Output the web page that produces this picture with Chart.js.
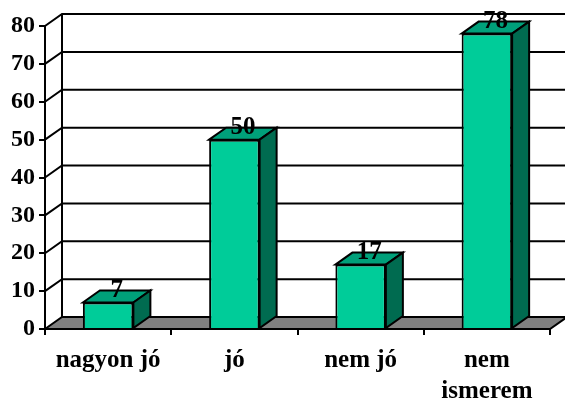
<!DOCTYPE html>
<html>
<head>
<meta charset="utf-8">
<script src="https://cdn.jsdelivr.net/npm/chart.js@4"></script>
<style>
  body { margin: 0; background: #fff; }
  #wrap { width: 565px; height: 400px; }
</style>
</head>
<body>
<div id="wrap"><canvas id="c1"></canvas></div>
<script>
// data
const categories = ['nagyon jó', 'jó', 'nem jó', ['nem', 'ismerem']];
const values = [7, 50, 17, 78];
const yMin = 0;
const yMax = 80;
const yStep = 10;

// 3d look
const dx = 17, dy = -12;
const frontColor = '#00CC99';
const topColor = '#00A07A';
const sideColor = '#006B50';
const fontFamily = '"Liberation Serif", "Times New Roman", serif';

const fake3d = {
    id: 'fake3d',
    beforeDatasetsDraw(chart) {
        const { ctx, chartArea, scales } = chart;
        const { left, right, bottom } = chartArea;
        const y = scales.y;
        ctx.save();
        ctx.lineWidth = 2;
        ctx.strokeStyle = '#000';

        // floor
        ctx.beginPath();
        ctx.moveTo(left, bottom);
        ctx.lineTo(left + dx, bottom + dy);
        ctx.lineTo(right + dx, bottom + dy);
        ctx.lineTo(right, bottom);
        ctx.closePath();
        ctx.fillStyle = '#808080';
        ctx.fill();
        ctx.stroke();

        // gridlines on side and back wall
        for (let v = yMin + yStep; v <= yMax; v += yStep) {
            const py = y.getPixelForValue(v);
            ctx.beginPath();
            ctx.moveTo(left, py);
            ctx.lineTo(left + dx, py + dy);
            ctx.lineTo(chart.width, py + dy);
            ctx.stroke();
        }

        // back wall left edge
        ctx.beginPath();
        ctx.moveTo(left + dx, bottom + dy);
        ctx.lineTo(left + dx, y.getPixelForValue(yMax) + dy);
        ctx.stroke();
        ctx.restore();
    },
    afterDatasetsDraw(chart) {
        const { ctx } = chart;
        const meta = chart.getDatasetMeta(0);
        ctx.save();
        ctx.lineWidth = 2;
        ctx.strokeStyle = '#000';
        ctx.lineJoin = 'miter';
        meta.data.forEach((bar, i) => {
            const p = bar.getProps(['x', 'y', 'base', 'width'], true);
            const l = p.x - p.width / 2;
            const r = p.x + p.width / 2;
            const t = p.y;
            const b = p.base;

            // top
            ctx.beginPath();
            ctx.moveTo(l, t);
            ctx.lineTo(l + dx, t + dy);
            ctx.lineTo(r + dx, t + dy);
            ctx.lineTo(r, t);
            ctx.closePath();
            ctx.fillStyle = topColor;
            ctx.fill();
            ctx.stroke();

            // side
            ctx.beginPath();
            ctx.moveTo(r, t);
            ctx.lineTo(r + dx, t + dy);
            ctx.lineTo(r + dx, b + dy);
            ctx.lineTo(r, b);
            ctx.closePath();
            ctx.fillStyle = sideColor;
            ctx.fill();
            ctx.stroke();

            // value label
            ctx.fillStyle = '#000';
            ctx.font = 'bold 25px ' + fontFamily;
            ctx.textAlign = 'center';
            ctx.textBaseline = 'middle';
            ctx.fillText(String(values[i]), p.x + dx / 2, t + dy);
        });
        ctx.restore();
    }
};

const ctx = document.getElementById('c1').getContext('2d');

const myChart = new Chart(ctx, {
    type: 'bar',
    data: {
        labels: categories,
        datasets: [{
            data: values,
            backgroundColor: frontColor,
            borderColor: '#000',
            borderWidth: 2,
            categoryPercentage: 1,
            barPercentage: 0.4,
        }]
    },
    options: {
        responsive: true,
        maintainAspectRatio: false,
        animation: false,
        layout: {
            padding: { top: 26, right: 15, left: 0, bottom: 0 }
        },
        plugins: {
            legend: { display: false },
            tooltip: { enabled: false }
        },
        scales: {
            x: {
                grid: {
                    offset: true,
                    drawOnChartArea: false,
                    drawTicks: true,
                    tickLength: 6,
                    color: '#000',
                    lineWidth: 2
                },
                border: { display: true, color: '#000', width: 2 },
                ticks: {
                    color: '#000',
                    font: { family: fontFamily, weight: 'bold', size: 25, lineHeight: 1.25 },
                    padding: 10,
                    maxRotation: 0,
                    autoSkip: false
                },
                afterFit(scale) { scale.height = 71; }
            },
            y: {
                min: yMin,
                max: yMax,
                grid: {
                    drawOnChartArea: false,
                    drawTicks: true,
                    tickLength: 6,
                    color: '#000',
                    lineWidth: 2
                },
                border: { display: true, color: '#000', width: 2 },
                ticks: {
                    stepSize: yStep,
                    color: '#000',
                    font: { family: fontFamily, weight: 'bold', size: 24 },
                    padding: 4
                },
                afterFit(scale) { scale.width = 45; }
            }
        }
    },
    plugins: [fake3d]
});
</script>
</body>
</html>
